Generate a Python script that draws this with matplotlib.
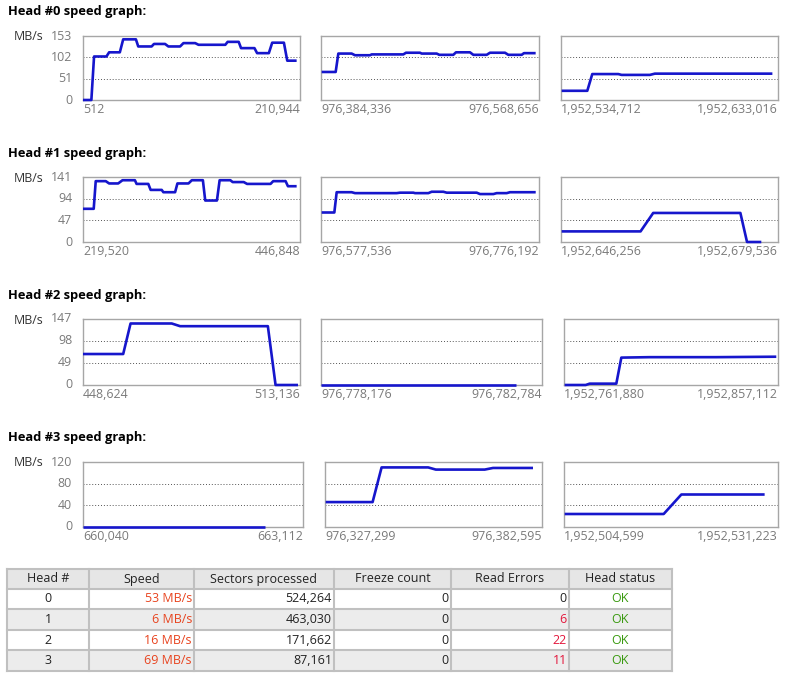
import matplotlib
matplotlib.use("Agg")
import matplotlib.pyplot as plt
from matplotlib.patches import Rectangle

plt.rcParams['font.family'] = ['Open Sans', 'DejaVu Sans']

W, H = 798, 677

# ---------------- data ----------------
head_titles = ["Head #0 speed graph:", "Head #1 speed graph:",
               "Head #2 speed graph:", "Head #3 speed graph:"]
y_ticklabels = [[0, 51, 102, 153], [0, 47, 94, 141], [0, 49, 98, 147], [0, 40, 80, 120]]

x_ranges = [
    [(512, 210944), (976384336, 976568656), (1952534712, 1952633016)],
    [(219520, 446848), (976577536, 976776192), (1952646256, 1952679536)],
    [(448624, 513136), (976778176, 976782784), (1952761880, 1952857112)],
    [(660040, 663112), (976327299, 976382595), (1952504599, 1952531223)],
]

h0p0_x = [512, 8630, 11230, 23240, 25840, 36230, 39480, 51820, 54090, 67080, 69350, 80070,
          83310, 94680, 97920, 109290, 112540, 138510, 140790, 151500, 153780, 166770,
          169360, 180730, 183980, 195340, 198590, 207680]
h0p0_y = [0, 0, 104, 104, 114, 114, 145, 145, 128, 128, 134, 134, 128, 128, 136, 136,
          132, 132, 139, 139, 124, 124, 112, 112, 137, 137, 94, 94]
h0p1_x = [976384900, 976396736, 976398990, 976410266, 976413086, 976425766, 976427176,
          976453946, 976456206, 976468036, 976469446, 976482126, 976484386, 976496216,
          976498476, 976510306, 976513126, 976524396, 976527216, 976539896, 976542716,
          976553986, 976555966, 976565826]
h0p1_y = [67, 67, 111, 111, 107, 107, 109, 109, 113, 113, 111, 111, 108, 108, 114, 114,
          108, 108, 113, 113, 108, 108, 112, 112]
h0p2_x = [1952535012, 1952546622, 1952548882, 1952560652, 1952562162, 1952574982,
          1952577242, 1952630472]
h0p2_y = [22, 22, 62, 62, 60, 60, 63, 63]

h1p0_x = [219520, 230746, 232850, 243374, 246882, 256354, 260914, 273894, 275648, 287926,
          290382, 301958, 303712, 315990, 318446, 330022, 333530, 345106, 347562, 359840,
          362646, 373872, 376328, 387904, 391412, 415968, 418774, 431754, 434210, 443330]
h1p0_y = [72, 72, 132, 132, 127, 127, 134, 134, 126, 126, 113, 113, 108, 108, 127, 127,
          134, 134, 90, 90, 134, 134, 130, 130, 126, 126, 132, 132, 121, 121]
h1p1_x = [976578144, 976589686, 976591816, 976605486, 976608526, 976646496, 976649536,
          976661686, 976663206, 976675356, 976678396, 976689026, 976692066, 976719406,
          976722446, 976734596, 976737636, 976746746, 976749786, 976773186]
h1p1_y = [64, 64, 108, 108, 106, 106, 107, 107, 106, 106, 109, 109, 107, 107, 104, 104,
          106, 106, 108, 108]
h1p2_x = [1952646358, 1952658456, 1952660396, 1952673766, 1952674786, 1952676976]
h1p2_y = [23, 23, 63, 63, 0, 0]

h2p0_x = [448624, 460571, 462762, 475007, 477496, 503580, 505870, 512540]
h2p0_y = [69, 69, 137, 137, 131, 131, 0, 0]
h2p1_x = [976778176, 976782248]
h2p1_y = [0, 0]
h2p2_x = [1952762176, 1952771520, 1952773300, 1952785160, 1952787390, 1952799990,
          1952829650, 1952856350]
h2p2_y = [0, 0, 3, 3, 61, 62, 62, 63]

h3p0_x = [660040, 662585]
h3p0_y = [0, 0]
h3p1_x = [976327469, 976339429, 976341719, 976353589, 976355539, 976367999, 976370119,
          976380299]
h3p1_y = [46, 46, 110, 110, 106, 106, 109, 109]
h3p2_x = [1952504682, 1952516999, 1952519199, 1952529559]
h3p2_y = [24, 24, 60, 60]

series = [
    [(h0p0_x, h0p0_y), (h0p1_x, h0p1_y), (h0p2_x, h0p2_y)],
    [(h1p0_x, h1p0_y), (h1p1_x, h1p1_y), (h1p2_x, h1p2_y)],
    [(h2p0_x, h2p0_y), (h2p1_x, h2p1_y), (h2p2_x, h2p2_y)],
    [(h3p0_x, h3p0_y), (h3p1_x, h3p1_y), (h3p2_x, h3p2_y)],
]

table_headers = ["Head #", "Speed", "Sectors processed", "Freeze count", "Read Errors", "Head status"]
table_head = ["0", "1", "2", "3"]
table_speed = ["53 MB/s", "6 MB/s", "16 MB/s", "69 MB/s"]
table_sectors = ["524,264", "463,030", "171,662", "87,161"]
table_freeze = [0, 0, 0, 0]
table_errors = [0, 6, 22, 11]
table_status = ["OK", "OK", "OK", "OK"]

# ---------------- layout ----------------
row_tb = [(36, 100), (177, 242), (319, 385), (462, 527)]
title_y = [12, 154, 295, 438]
col_lr = [
    [(83, 300), (321, 539), (561, 778)],
    [(83, 300), (321, 539), (561, 778)],
    [(83, 300), (321, 542), (564, 778)],
    [(83, 303), (325, 542), (564, 778)],
]

LINE_C = "#1616cc"
GRAY_T = "#7a7a7a"
SPINE_C = "#a6a6a6"
FS_T = 8.9

fig = plt.figure(figsize=(W / 100, H / 100), dpi=100)
fig.patch.set_facecolor("white")


def px_axes(l, t, r, b, **kw):
    return fig.add_axes([l / W, 1 - b / H, (r - l) / W, (b - t) / H], **kw)


for h in range(4):
    fig.text(8 / W, 1 - title_y[h] / H, head_titles[h], fontsize=9.3, fontweight="bold",
             va="center", ha="left", color="black")
    t, b = row_tb[h]
    ymax = y_ticklabels[h][-1]
    for p in range(3):
        l, r = col_lr[h][p]
        ax = px_axes(l, t, r, b)
        xs, ys = series[h][p]
        x0, x1 = x_ranges[h][p]
        ax.plot(xs, ys, color=LINE_C, lw=1.9, solid_joinstyle="round",
                solid_capstyle="butt", clip_on=False, zorder=3)
        ax.set_xlim(x0, x1)
        ax.set_ylim(0, ymax)
        for gv in y_ticklabels[h][1:3]:
            ax.axhline(gv, color="#555555", lw=0.7, ls=(0, (1, 2)), zorder=1)
        ax.set_xticks([])
        ax.set_yticks([])
        for s in ax.spines.values():
            s.set_color(SPINE_C)
            s.set_linewidth(1.0)
        # x range labels
        ax.text(0, -0.04, f"{x0:,}", transform=ax.transAxes, ha="left", va="top",
                fontsize=FS_T, color=GRAY_T)
        ax.text(1, -0.04, f"{x1:,}", transform=ax.transAxes, ha="right", va="top",
                fontsize=FS_T, color=GRAY_T)
        if p == 0:
            for v in y_ticklabels[h]:
                ax.text(-0.05, v / ymax, str(v), transform=ax.transAxes, ha="right",
                        va="center", fontsize=FS_T, color=GRAY_T)
            ax.text(14 / W, 1 - (t + 1) / H, "MB/s", transform=fig.transFigure,
                    ha="left", va="center", fontsize=FS_T, color="#333333")

# ---------------- table ----------------
tax = fig.add_axes([0, 0, 1, 1])
tax.set_xlim(0, W)
tax.set_ylim(H, 0)
tax.axis("off")

col_x = [7, 89, 194, 334, 451, 569, 672]
row_y = [569, 589, 609, 630, 650, 671]
row_bg = ["#e6e6e6", "#ffffff", "#ececec", "#ffffff", "#ececec"]
for i in range(5):
    tax.add_patch(Rectangle((col_x[0], row_y[i]), col_x[-1] - col_x[0], row_y[i + 1] - row_y[i],
                            facecolor=row_bg[i], edgecolor="none", zorder=1))
for yv in row_y:
    tax.plot([col_x[0], col_x[-1]], [yv, yv], color="#c0c0c0", lw=1.5, zorder=2)
for xv in col_x:
    tax.plot([xv, xv], [row_y[0], row_y[-1]], color="#c0c0c0", lw=1.5, zorder=2)

FS = 9.0
ym = lambda i: (row_y[i] + row_y[i + 1]) / 2
for j, hd in enumerate(table_headers):
    tax.text((col_x[j] + col_x[j + 1]) / 2, ym(0), hd, ha="center", va="center",
             fontsize=FS, color="#222222", zorder=3)

SPEED_C = "#e8431e"
ERR_C = "#e3173c"
OK_C = "#3a9a10"
for i in range(4):
    yy = ym(i + 1)
    tax.text((col_x[0] + col_x[1]) / 2, yy, table_head[i], ha="center", va="center",
             fontsize=FS, color="#222222", zorder=3)
    tax.text(col_x[2] - 2, yy, table_speed[i], ha="right", va="center",
             fontsize=FS, color=SPEED_C, zorder=3)
    tax.text(col_x[3] - 2, yy, table_sectors[i], ha="right", va="center",
             fontsize=FS, color="#222222", zorder=3)
    tax.text(col_x[4] - 2, yy, str(table_freeze[i]), ha="right", va="center",
             fontsize=FS, color="#222222", zorder=3)
    tax.text(col_x[5] - 2, yy, str(table_errors[i]), ha="right", va="center",
             fontsize=FS, color=(ERR_C if table_errors[i] > 0 else "#222222"), zorder=3)
    tax.text((col_x[5] + col_x[6]) / 2, yy, table_status[i], ha="center", va="center",
             fontsize=FS, color=OK_C, zorder=3)

fig.savefig("out.png", dpi=100, facecolor="white")
